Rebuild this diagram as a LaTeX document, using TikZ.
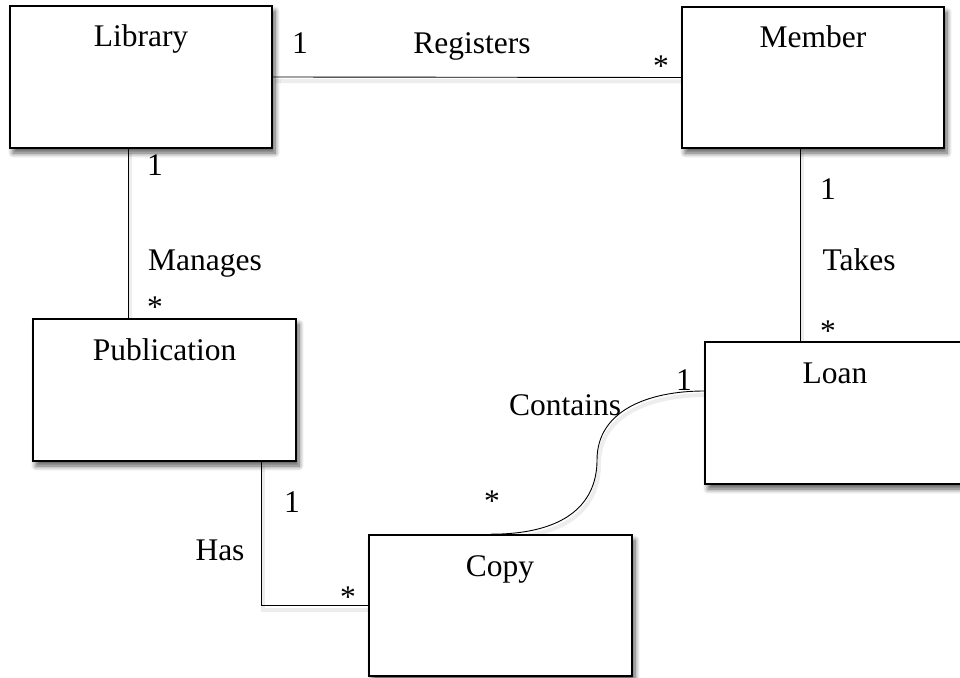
\documentclass[tikz,border=0pt]{standalone}
\usepackage{fontspec}
\setmainfont{Liberation Serif}
\usetikzlibrary{shadows.blur,calc}
\pgfdeclarelayer{bg}
\pgfsetlayers{bg,main}
\begin{document}
\begin{tikzpicture}[x=1pt,y=-1pt,
  box/.style={draw=black,line width=1.6pt,fill=white,inner sep=0pt,
    blur shadow={shadow xshift=3pt,shadow yshift=-5pt,shadow blur steps=8,shadow blur radius=5pt,shadow opacity=65}},
  conn/.style={draw=black,line width=0.9pt,
    preaction={draw=black!40,opacity=0.18,line width=4pt,transform canvas={xshift=2pt,yshift=-4pt}}},
  lbl/.style={anchor=base,inner sep=0pt,font=\fontsize{31.5}{36}\selectfont},
  title/.style={anchor=base,inner sep=0pt,font=\fontsize{31.5}{36}\selectfont}]
\useasboundingbox (0,0) rectangle (960,677);
% boxes
\node[box,minimum width=262pt,minimum height=142pt] (lib) at (141,77) {};
\node[box,minimum width=262pt,minimum height=141pt] (mem) at (813,77.5) {};
\node[box,minimum width=263pt,minimum height=142pt] (pub) at (164.5,390) {};
\node[box,minimum width=260pt,minimum height=142pt] (loan) at (835,413) {};
\node[box,minimum width=263pt,minimum height=141pt] (copy) at (500.5,605.5) {};
% titles
\node[title] (tlib) at (141,47) {Library};
\node[title] (tmem) at (813,48) {Member};
\node[title] (tpub) at (164.5,360) {Publication};
\node[title] (tloan) at (835,383) {Loan};
\node[title] (tcopy) at (500,576) {Copy};
% connectors (on background layer, under boxes)
\begin{pgfonlayer}{bg}
\draw[conn] (lib.east) -- (mem.west);
\coordinate (mtop) at ([xshift=119pt]lib.south west);
\draw[conn] (mtop) -- (mtop |- pub.north);
\coordinate (ttop) at ([xshift=119pt]mem.south west);
\draw[conn] (ttop) -- (ttop |- loan.north);
\coordinate (htop) at ([xshift=229pt]pub.south west);
\draw[conn] (htop) |- (copy.west);
\coordinate (cs) at ([xshift=-10pt]copy.north);
\coordinate (cm) at (597,460);
\coordinate (ce) at ([yshift=22pt]loan.west);
\draw[conn] (cs) .. controls +(80,0) and +(0,40) .. (cm) .. controls +(0,-50) and +(-55,0) .. (ce);
\end{pgfonlayer}
% labels
\node[lbl] (r1) at (300,54) {1};
\node[lbl] (rn) at (472,54) {Registers};
\node[lbl] (rs) at (661,76) {*};
\node[lbl] (m1) at (155,175) {1};
\node[lbl] (mn) at (205,270) {Manages};
\node[lbl] (ms) at (155,317) {*};
\node[lbl] (t1) at (828,199) {1};
\node[lbl] (tn) at (859,270) {Takes};
\node[lbl] (ts) at (828,341) {*};
\node[lbl] (c1) at (684,390) {1};
\node[lbl] (cn) at (565,415) {Contains};
\node[lbl] (cst) at (492,511) {*};
\node[lbl] (h1) at (292,512) {1};
\node[lbl] (hn) at (220,560) {Has};
\node[lbl] (hs) at (348,607) {*};
\end{tikzpicture}
\end{document}
